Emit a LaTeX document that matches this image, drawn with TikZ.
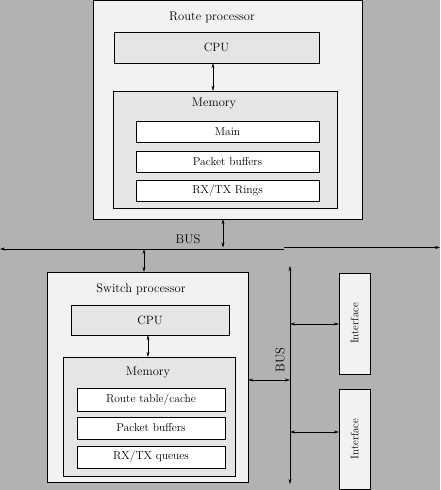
\documentclass[tikz,border=0pt]{standalone}
\usepackage{tikz}
\usetikzlibrary{positioning,arrows.meta}
\definecolor{bggray}{gray}{0.70}
\definecolor{outerfill}{gray}{0.95}
\definecolor{midfill}{gray}{0.90}
\begin{document}
\begin{tikzpicture}[x=1pt, y=-1pt,
    outerbox/.style={draw, fill=outerfill, inner sep=0pt},
    midbox/.style={draw, fill=midfill, inner sep=0pt, font=\fontsize{12}{14}\selectfont},
    innerbox/.style={draw, fill=white, inner sep=0pt, font=\fontsize{11.5}{13}\selectfont},
    title/.style={font=\fontsize{12.5}{15}\selectfont, inner sep=0pt},
    link/.style={{Stealth[length=5pt,width=3pt]}-{Stealth[length=5pt,width=3pt]}},
    busline/.style={-{Stealth[length=5pt,width=3pt]}}]
    \fill[bggray] (0,0) rectangle (440,490);
    \useasboundingbox (0,0) rectangle (440,490);

    % route processor
    \node [outerbox, minimum width=269pt, minimum height=219pt] (rp) at (227.5,109.5) {};
    \node [title] (rptitle) at (212,17) {Route processor};
    \node [midbox, minimum width=205pt, minimum height=31pt] (rpcpu) at (216.5,47.5) {CPU};
    \node [midbox, minimum width=224pt, minimum height=117pt] (rpmem) at (225,149.5) {};
    \node [title] (rpmemtitle) at (214,104) {Memory};
    \node [innerbox, minimum width=183pt, minimum height=21pt] (rpmain) at (227.5,131.5) {Main};
    \node [innerbox, minimum width=183pt, minimum height=21pt] (rpbuf) at (227.5,161.5) {Packet buffers};
    \node [innerbox, minimum width=183pt, minimum height=21pt] (rpring) at (227.5,190.5) {RX/TX Rings};

    % switch processor
    \node [outerbox, minimum width=201pt, minimum height=210pt] (sp) at (147.5,377) {};
    \node [title] (sptitle) at (141,289) {Switch processor};
    \node [midbox, minimum width=158pt, minimum height=30pt] (spcpu) at (150,320) {CPU};
    \node [midbox, minimum width=172pt, minimum height=119pt] (spmem) at (149,416.5) {};
    \node [title] (spmemtitle) at (148,373) {Memory};
    \node [innerbox, minimum width=148pt, minimum height=23pt] (sproute) at (151,399.5) {Route table/cache};
    \node [innerbox, minimum width=148pt, minimum height=22pt] (spbuf) at (151,428) {Packet buffers};
    \node [innerbox, minimum width=148pt, minimum height=22pt] (spqueue) at (151,457) {RX/TX queues};

    % interfaces
    \node [outerbox, minimum width=31pt, minimum height=101pt, font=\fontsize{11}{13}\selectfont] (if1) at (354.5,323.5) {\rotatebox{90}{Interface}};
    \node [outerbox, minimum width=31pt, minimum height=100pt, font=\fontsize{11}{13}\selectfont] (if2) at (354.5,439) {\rotatebox{90}{Interface}};

    % buses
    \coordinate (busL) at (0,249);
    \coordinate (busM) at (284,249);
    \coordinate (busN) at (284,247.5);
    \coordinate (busR) at (440,247.5);
    \draw [busline] (busM) -- (busL);
    \draw [busline] (busN) -- (busR);
    \node [title] (hbus) at (188,239) {BUS};

    \coordinate (vbusT) at (290,266);
    \coordinate (vbusB) at (290,484);
    \draw [busline] (290,380) -- (vbusT);
    \draw [busline] (290,380) -- (vbusB);
    \node [title, rotate=90] (vbus) at (280,360) {BUS};

    % links
    \draw [link] (rpcpu.south -| 213,0) -- (rpmem.north -| 213,0);
    \draw [link] (rp.south -| 223,0) -- (223,247.5);
    \draw [link] (144,249) -- (sp.north -| 144,0);
    \draw [link] (spcpu.south -| 148,0) -- (spmem.north -| 148,0);
    \draw [link] (sp.east |- 0,380) -- (290,380);
    \draw [link] (290,324) -- (if1.west |- 0,324);
    \draw [link] (290,432) -- (if2.west |- 0,432);
\end{tikzpicture}
\end{document}
